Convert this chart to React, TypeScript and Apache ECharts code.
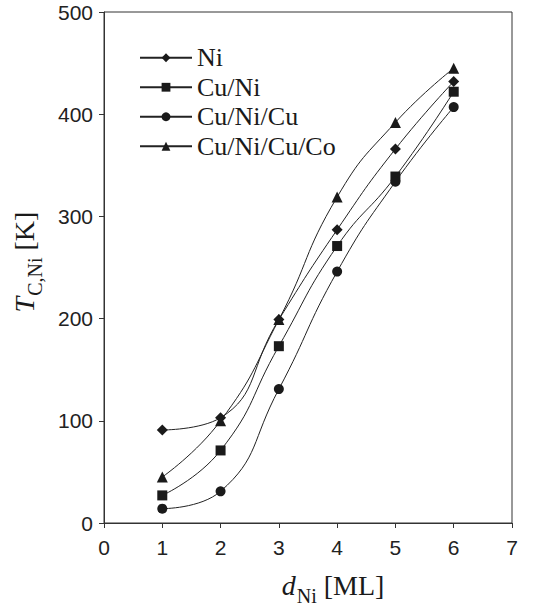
import React, { useEffect, useRef } from "react";
import * as echarts from "echarts";

const xValues = [1, 2, 3, 4, 5, 6];
const niValues = [91, 103, 199, 287, 366, 432];
const cuNiValues = [27, 71, 173, 271, 339, 422];
const cuNiCuValues = [14, 31, 131, 246, 334, 407];
const cuNiCuCoValues = [45, 100, 199, 319, 392, 445];
const seriesNames = ["Ni", "Cu/Ni", "Cu/Ni/Cu", "Cu/Ni/Cu/Co"];
const xTicks = [0, 1, 2, 3, 4, 5, 6, 7];
const yTicks = [0, 100, 200, 300, 400, 500];

const serif = "Liberation Serif";
const sans = "Liberation Sans";

export default function App() {
  const ref = useRef<HTMLDivElement>(null);
  useEffect(() => {
    if (!ref.current) return;
    const chart = echarts.init(ref.current, null, { renderer: "svg" });
    const pairs = (vals: number[]) => xValues.map((x, i) => [x, vals[i]]);
    const mk = (name: string, vals: number[], symbol: string, size: number) => ({
      name,
      type: "line",
      data: pairs(vals),
      smooth: 0.5,
      symbol,
      symbolSize: size,
      showAllSymbol: true,
      lineStyle: { color: "#222", width: 1 },
      itemStyle: { color: "#1a1a1a", borderWidth: 0 },
      emphasis: { disabled: true },
    });
    const legendText = {
      fontFamily: serif,
      fontSize: 26,
      color: "#1a1a1a",
      lineHeight: 29.5,
    };
    chart.setOption({
      animation: false,
      backgroundColor: "#fff",
      textStyle: { fontFamily: sans },
      grid: {
        left: 104,
        top: 12,
        right: 22,
        bottom: 85,
        show: true,
        borderColor: "#333",
        borderWidth: 1,
      },
      legend: {
        orient: "vertical",
        left: 134,
        top: 38,
        itemWidth: 52,
        itemHeight: 11,
        itemGap: 0,
        data: seriesNames.map((n) => ({ name: n, textStyle: legendText })),
        textStyle: legendText,
      },
      xAxis: {
        type: "value",
        min: xTicks[0],
        max: xTicks[xTicks.length - 1],
        interval: 1,
        axisLine: { show: true, onZero: false, lineStyle: { color: "#333", width: 1 } },
        axisTick: { show: true, inside: false, length: 5, lineStyle: { color: "#333" } },
        splitLine: { show: false },
        axisLabel: { fontFamily: sans, fontSize: 21, color: "#222", margin: 14 },
      },
      yAxis: {
        type: "value",
        min: yTicks[0],
        max: yTicks[yTicks.length - 1],
        interval: 100,
        axisLine: { show: true, onZero: false, lineStyle: { color: "#333", width: 1 } },
        axisTick: { show: true, inside: false, length: 5, lineStyle: { color: "#333" } },
        splitLine: { show: false },
        axisLabel: { fontFamily: sans, fontSize: 21, color: "#222", margin: 11 },
      },
      graphic: [
        {
          type: "text",
          x: 333,
          y: 585,
          style: {
            text: "{i|d}{s|Ni}{n| [ML]}",
            align: "center",
            verticalAlign: "middle",
            rich: {
              i: { fontFamily: serif, fontSize: 28, fontStyle: "italic", fill: "#1a1a1a" },
              n: { fontFamily: serif, fontSize: 28, fill: "#1a1a1a" },
              s: { fontFamily: serif, fontSize: 20, fill: "#1a1a1a", padding: [22, 0, 0, 1] },
            },
          },
        },
        {
          type: "text",
          x: 24,
          y: 262,
          rotation: Math.PI / 2,
          style: {
            text: "{i|T}{s|C,Ni}{n| [K]}",
            align: "center",
            verticalAlign: "middle",
            rich: {
              i: { fontFamily: serif, fontSize: 28, fontStyle: "italic", fill: "#1a1a1a" },
              n: { fontFamily: serif, fontSize: 28, fill: "#1a1a1a" },
              s: { fontFamily: serif, fontSize: 20, fill: "#1a1a1a", padding: [22, 0, 0, 1] },
            },
          },
        },
      ],
      series: [
        mk(seriesNames[0], niValues, "diamond", 11),
        mk(seriesNames[1], cuNiValues, "rect", 10),
        mk(seriesNames[2], cuNiCuValues, "circle", 10),
        mk(seriesNames[3], cuNiCuCoValues, "triangle", 11),
      ],
    });
    return () => chart.dispose();
  }, []);
  return <div ref={ref} style={{ width: 534, height: 608, position: "absolute", left: 0, top: 0 }} />;
}
